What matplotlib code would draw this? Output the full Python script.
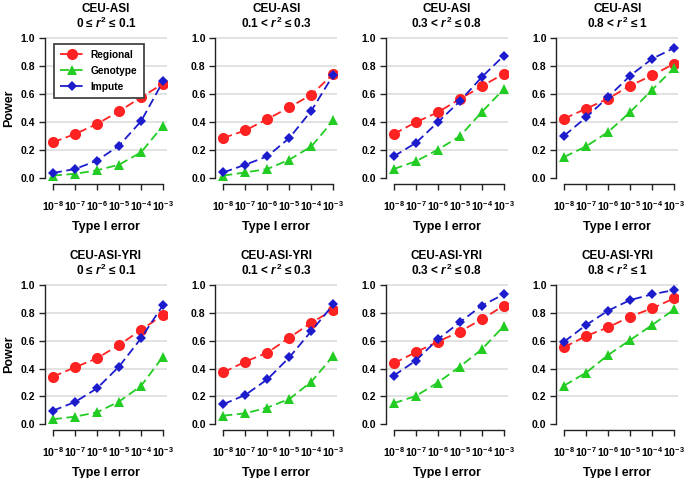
import matplotlib
matplotlib.use("Agg")
import matplotlib.pyplot as plt

plt.rcParams['font.family'] = ['Liberation Sans', 'DejaVu Sans']
plt.rcParams['mathtext.fontset'] = 'custom'
plt.rcParams['mathtext.rm'] = 'Liberation Sans:bold'
plt.rcParams['mathtext.it'] = 'Liberation Sans:italic:bold'
plt.rcParams['mathtext.bf'] = 'Liberation Sans:bold'

x_labels = [r'$\mathbf{10^{-8}}$', r'$\mathbf{10^{-7}}$', r'$\mathbf{10^{-6}}$',
            r'$\mathbf{10^{-5}}$', r'$\mathbf{10^{-4}}$', r'$\mathbf{10^{-3}}$']
x_pos = [1, 2, 3, 4, 5, 6]

populations = ['CEU-ASI', 'CEU-ASI-YRI']
r2_bins = ['0 ≤ $\\mathit{r}^{\\mathrm{2}}$ ≤ 0.1',
           '0.1 < $\\mathit{r}^{\\mathrm{2}}$ ≤ 0.3',
           '0.3 < $\\mathit{r}^{\\mathrm{2}}$ ≤ 0.8',
           '0.8 < $\\mathit{r}^{\\mathrm{2}}$ ≤ 1']
series_names = ['Regional', 'Genotype', 'Impute']

# CEU-ASI
regional_ceu_asi = [
    [0.255, 0.314, 0.386, 0.476, 0.576, 0.674],
    [0.286, 0.340, 0.421, 0.505, 0.595, 0.745],
    [0.314, 0.398, 0.469, 0.564, 0.655, 0.745],
    [0.424, 0.495, 0.567, 0.660, 0.733, 0.817],
]
genotype_ceu_asi = [
    [0.017, 0.030, 0.055, 0.095, 0.183, 0.374],
    [0.017, 0.040, 0.064, 0.131, 0.226, 0.412],
    [0.064, 0.119, 0.202, 0.298, 0.471, 0.636],
    [0.150, 0.226, 0.329, 0.471, 0.631, 0.786],
]
impute_ceu_asi = [
    [0.036, 0.064, 0.124, 0.231, 0.405, 0.690],
    [0.040, 0.095, 0.155, 0.286, 0.481, 0.738],
    [0.155, 0.250, 0.398, 0.548, 0.721, 0.874],
    [0.302, 0.433, 0.579, 0.731, 0.852, 0.929],
]
# CEU-ASI-YRI
regional_ceu_asi_yri = [
    [0.342, 0.409, 0.474, 0.569, 0.677, 0.785],
    [0.373, 0.450, 0.514, 0.622, 0.730, 0.821],
    [0.438, 0.517, 0.593, 0.665, 0.754, 0.852],
    [0.553, 0.634, 0.696, 0.773, 0.833, 0.904],
]
genotype_ceu_asi_yri = [
    [0.036, 0.055, 0.086, 0.163, 0.275, 0.486],
    [0.062, 0.079, 0.120, 0.182, 0.306, 0.493],
    [0.151, 0.203, 0.299, 0.414, 0.538, 0.706],
    [0.278, 0.371, 0.498, 0.605, 0.713, 0.825],
]
impute_ceu_asi_yri = [
    [0.098, 0.160, 0.258, 0.414, 0.617, 0.856],
    [0.144, 0.211, 0.323, 0.481, 0.670, 0.861],
    [0.349, 0.457, 0.610, 0.732, 0.852, 0.933],
    [0.593, 0.713, 0.816, 0.892, 0.933, 0.964],
]

data = [
    [regional_ceu_asi, genotype_ceu_asi, impute_ceu_asi],
    [regional_ceu_asi_yri, genotype_ceu_asi_yri, impute_ceu_asi_yri],
]

colors = ['#FF2222', '#22CC22', '#1C1CCC']
markers = ['o', '^', 'D']
msizes = [8.0, 7.5, 5.0]

W, H = 685, 478
fig = plt.figure(figsize=(W / 100, H / 100), dpi=100)

row_tops = [32.4, 279.4]
row_bottoms = [183.6, 429.9]
col_left0 = 45.0
col_step = 170.4
ax_w = 122.0

for r in range(2):
    for c in range(4):
        left = col_left0 + col_step * c
        top = row_tops[r]
        bot = row_bottoms[r]
        ax = fig.add_axes([left / W, 1 - bot / H, ax_w / W, (bot - top) / H])
        ax.set_xlim(0.64, 6.18)
        ax.set_ylim(-0.04, 1.04)
        for gy in [0.2, 0.4, 0.6, 0.8, 1.0]:
            ax.axhline(gy, color='#DADADA', lw=1.1, zorder=0)
        handles = []
        for s in range(3):
            h, = ax.plot(x_pos, data[r][s][c], color=colors[s], marker=markers[s],
                         markersize=msizes[s], lw=1.3, dashes=(5, 2.5),
                         markeredgewidth=0, label=series_names[s], zorder=3)
            handles.append(h)
        ax.spines['top'].set_visible(False)
        ax.spines['right'].set_visible(False)
        ax.spines['left'].set_bounds(0, 1)
        ax.spines['bottom'].set_bounds(1, 6)
        for sp in ['left', 'bottom']:
            ax.spines[sp].set_color('#222222')
            ax.spines[sp].set_linewidth(1.0)
        ax.set_xticks(x_pos)
        ax.set_xticklabels(x_labels, fontsize=7.6)
        ax.set_yticks([0, 0.2, 0.4, 0.6, 0.8, 1.0])
        ax.set_yticklabels(['0.0', '0.2', '0.4', '0.6', '0.8', '1.0'],
                           fontsize=7.5, fontweight='bold')
        ax.tick_params(axis='both', direction='out', length=4, width=1.0,
                       color='#222222', pad=3)
        ax.tick_params(axis='x', pad=7)
        ax.set_xlabel('Type I error', fontsize=9, fontweight='bold', labelpad=6)
        if c == 0:
            ax.set_ylabel('Power', fontsize=9, fontweight='bold', labelpad=4)
        ax.set_title(populations[r] + '\n' + r2_bins[c], fontsize=8.5,
                     fontweight='bold', pad=3, linespacing=1.1)
        if r == 0 and c == 0:
            leg = ax.legend(handles=handles, loc='upper left',
                            bbox_to_anchor=(0.035, 0.96),
                            frameon=True, fancybox=False, handlelength=2.2,
                            borderpad=0.6, labelspacing=0.6, handletextpad=0.8,
                            prop={'weight': 'bold', 'size': 7.3})
            leg.get_frame().set_edgecolor('#444444')
            leg.get_frame().set_linewidth(1.3)
            leg.get_frame().set_alpha(1)

fig.savefig('out.png', dpi=100)
